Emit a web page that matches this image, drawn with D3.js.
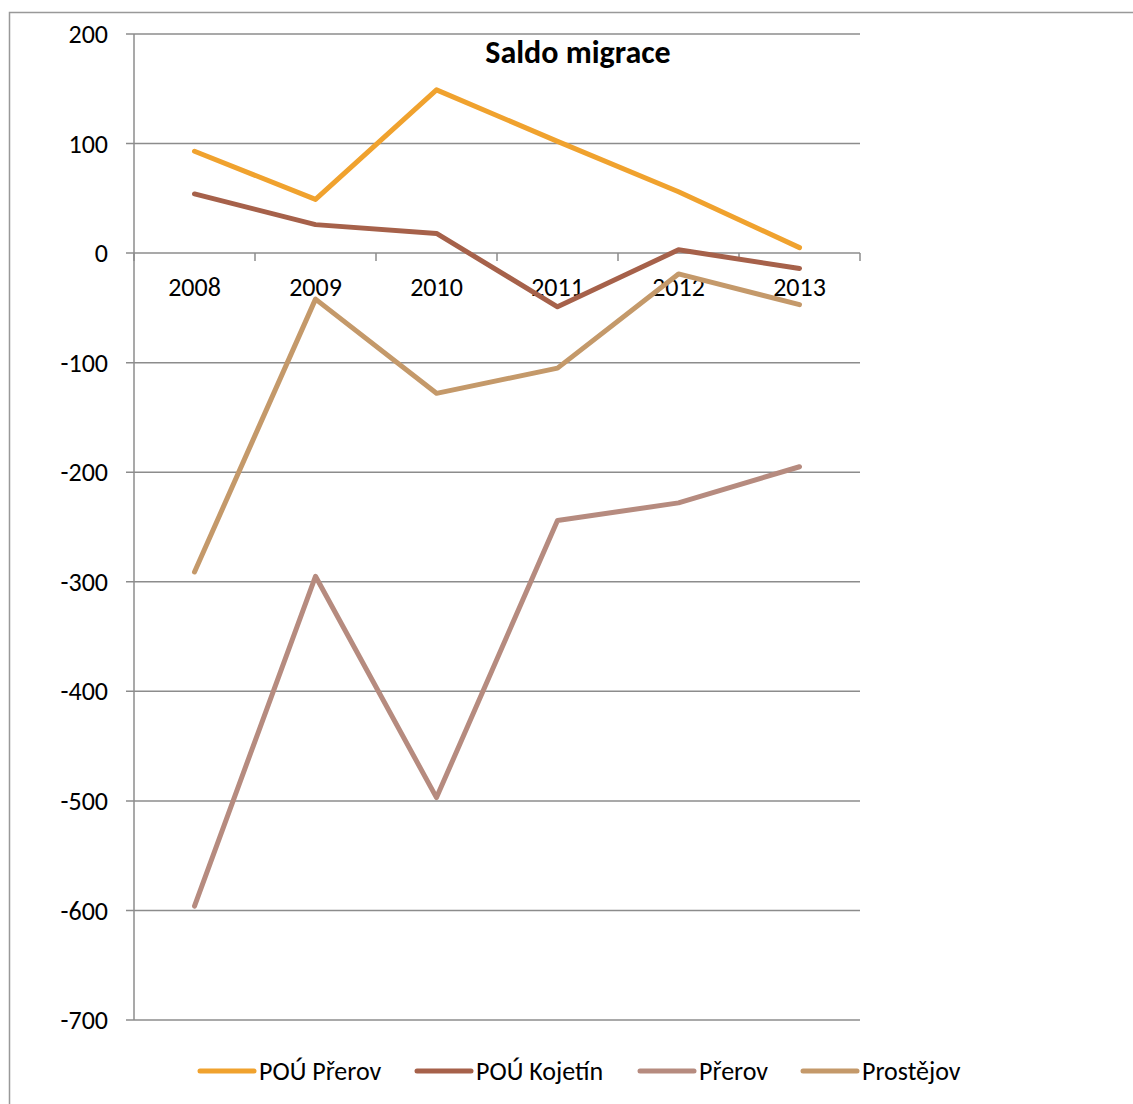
<!DOCTYPE html>
<html><head><meta charset="utf-8">
<script src="https://cdn.jsdelivr.net/npm/d3@7"></script>
<style>body{margin:0;background:#fff}svg{display:block;font-family:Carlito,Calibri,"Open Sans",sans-serif}</style>
</head><body><svg id="c" width="1133" height="1104"></svg>
<script>
const years = ["2008","2009","2010","2011","2012","2013"];
const seriesNames = ["POÚ Přerov","POÚ Kojetín","Přerov","Prostějov"];
const pouPrerov = [93, 49, 149, 102, 56, 5];
const pouKojetin = [54, 26, 18, -49, 3, -14];
const prerov = [-596, -295, -497, -244, -228, -195];
const prostejov = [-291, -42, -128, -105, -19, -47];
const colors = ["#F0A22E","#A6614A","#B68B7F","#C4996A"];
const yTicks = [200,100,0,-100,-200,-300,-400,-500,-600,-700];
const title = "Saldo migrace";

const svg = d3.select("#c");
const L=134,R=860,T=34,B=1020;
const x = d3.scaleBand().domain(years).range([L,R]);
const y = d3.scaleLinear().domain([-700,200]).range([B,T]);

// outer border
svg.append("rect").attr("x",9.5).attr("y",12.5).attr("width",1140).attr("height",1100)
  .attr("fill","none").attr("stroke","#999").attr("stroke-width",1.5);

// gridlines
svg.append("g").selectAll("line").data(yTicks).join("line")
  .attr("x1",L-8).attr("x2",R).attr("y1",d=>y(d)).attr("y2",d=>y(d))
  .attr("stroke","#8c8c8c").attr("stroke-width",1.5);
// y axis line
svg.append("line").attr("x1",L).attr("x2",L).attr("y1",T).attr("y2",B).attr("stroke","#8c8c8c").attr("stroke-width",1.5);
// y labels
svg.append("g").selectAll("text").data(yTicks).join("text")
  .attr("x",108).attr("y",d=>y(d)).attr("dy","0.35em").attr("text-anchor","end")
  .attr("font-size",26).text(d=>d);

// x axis ticks at y=0
const bounds = years.map(d=>x(d)).concat([R]);
svg.append("g").selectAll("line").data(bounds).join("line")
  .attr("x1",d=>d).attr("x2",d=>d).attr("y1",y(0)).attr("y2",y(0)+8)
  .attr("stroke","#8c8c8c").attr("stroke-width",1.5);
svg.append("g").selectAll("text").data(years).join("text")
  .attr("x",d=>x(d)+x.bandwidth()/2).attr("y",y(0)+43).attr("text-anchor","middle")
  .attr("font-size",26).text(d=>d);

// title
svg.append("text").attr("x",578).attr("y",63).attr("text-anchor","middle")
  .attr("font-size",32).attr("font-weight","bold").text(title);

// lines
const data=[pouPrerov,pouKojetin,prerov,prostejov];
const line = d3.line().x((d,i)=>x(years[i])+x.bandwidth()/2).y(d=>y(d));
const order=[2,3,1,0];
order.forEach(k=>{
  svg.append("path").attr("d",line(data[k])).attr("fill","none")
    .attr("stroke",colors[k]).attr("stroke-width",5).attr("stroke-linecap","round").attr("stroke-linejoin","round");
});

// legend
const legX=[200,417,640,803];
seriesNames.forEach((n,i)=>{
  svg.append("line").attr("x1",legX[i]).attr("x2",legX[i]+54).attr("y1",1071).attr("y2",1071)
    .attr("stroke",colors[i]).attr("stroke-width",5).attr("stroke-linecap","round");
  svg.append("text").attr("x",legX[i]+59).attr("y",1071).attr("dy","0.35em").attr("font-size",26).text(n);
});
</script></body></html>
